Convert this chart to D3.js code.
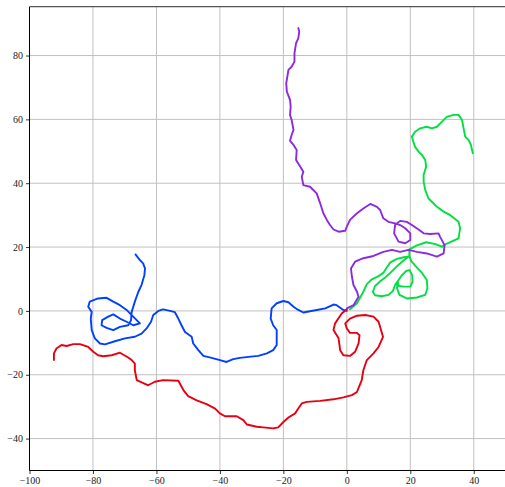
<!DOCTYPE html>
<html>
<head>
<meta charset="utf-8">
<script src="https://cdn.jsdelivr.net/npm/d3@7/dist/d3.min.js"></script>
<style>
html,body{margin:0;padding:0;background:#fff;}
</style>
</head>
<body>
<svg id="chart" width="505" height="487"></svg>
<script>
const xTicks = [-100, -80, -60, -40, -20, 0, 20, 40];
const yTicks = [-40, -20, 0, 20, 40, 60, 80];

const bluePath = [[0,0],[-1.1,0.3],[-3.2,1.8],[-4.2,2.0],[-6.8,0.8],[-9.5,0.3],[-11.6,-0.1],[-13.7,-0.5],[-15.3,0.3],[-16.8,1.3],[-18.4,2.7],[-20.0,3.1],[-22.1,2.4],[-23.7,0.8],[-24.0,-2.4],[-23.2,-4.5],[-22.1,-6.0],[-22.1,-10.7],[-23.2,-12.3],[-25.2,-13.3],[-27.9,-14.1],[-31.0,-14.4],[-33.7,-14.7],[-35.8,-15.1],[-37.9,-16.0],[-40.0,-15.4],[-42.6,-14.7],[-45.2,-14.1],[-46.8,-12.3],[-48.4,-10.2],[-48.9,-8.1],[-51.0,-6.6],[-52.1,-4.5],[-53.1,-2.4],[-54.2,-0.4],[-55.7,0],[-57.9,0.5],[-59.4,0],[-61.0,-1.3],[-61.7,-3.4],[-63.1,-5.5],[-64.7,-7.1],[-66.8,-8.1],[-69.9,-8.6],[-73.1,-9.5],[-76.2,-10.5],[-77.8,-10.2],[-79.4,-8.6],[-80.4,-6.0],[-80.7,-2.4],[-80.4,-0.3],[-81.5,1.3],[-81.0,2.9],[-78.4,3.9],[-75.7,4.1],[-73.6,2.9],[-71.5,1.8],[-69.4,0.3],[-67.8,-1.3],[-65.2,-3.9],[-67.3,-4.5],[-69.4,-3.4],[-71.5,-2.4],[-73.6,-1.1],[-75.2,-1.8],[-77.1,-2.9],[-77.3,-4.5],[-75.7,-5.3],[-73.6,-6.0],[-71.5,-5.0],[-68.9,-4.5],[-68.0,-2.9],[-67.8,-0.3],[-66.8,2.9],[-65.7,6.0],[-64.7,8.1],[-63.8,11.2],[-63.6,13.3],[-64.2,14.9],[-65.2,15.9],[-66.6,17.7]];

const redPath = [[0,0.5],[-1.6,-0.8],[-3.7,-3.9],[-4.2,-6.0],[-2.6,-8.6],[-2.1,-12.3],[-1.1,-13.9],[1.0,-14.1],[2.6,-12.8],[3.7,-10.2],[4.0,-7.6],[3.2,-6.9],[1.0,-6.9],[0,-5.5],[-0.5,-3.9],[1.0,-2.4],[3.2,-1.5],[5.8,-1.3],[8.4,-1.8],[10.0,-3.4],[11.4,-8.1],[10.0,-11.3],[8.4,-13.3],[6.3,-15.4],[5.2,-18.6],[4.7,-21.7],[3.2,-25.4],[1.6,-26.4],[-1.1,-27.1],[-4.2,-27.7],[-8.4,-28.2],[-12.6,-28.5],[-14.2,-29.0],[-15.3,-30.6],[-16.3,-32.1],[-18.4,-33.4],[-20.0,-34.8],[-21.6,-36.5],[-23.2,-36.8],[-26.3,-36.5],[-28.4,-36.3],[-31.5,-35.6],[-32.6,-34.2],[-34.7,-33.0],[-38.4,-33.0],[-40.0,-32.1],[-41.5,-30.6],[-44.2,-29.2],[-47.3,-28.0],[-50.0,-26.7],[-51.5,-24.8],[-53.1,-21.9],[-57.9,-21.7],[-60.5,-22.2],[-62.6,-23.3],[-66.2,-21.7],[-66.8,-18.6],[-66.8,-16.5],[-67.8,-15.4],[-68.9,-14.6],[-71.5,-13.1],[-74.1,-13.9],[-76.8,-14.2],[-78.4,-13.9],[-79.9,-12.8],[-81.5,-11.3],[-84.1,-10.4],[-86.2,-10.4],[-88.3,-11.0],[-89.9,-10.7],[-91.5,-11.8],[-92.3,-13.3],[-92.3,-15.4]];

const purplePath = [[0,0.8],[2.1,1.8],[3.7,4.4],[3.2,6.0],[2.1,8.1],[1.6,10.7],[1.3,13.3],[2.6,15.4],[5.2,16.5],[8.4,17.2],[11.5,18.5],[14.2,19.1],[16.8,18.5],[19.4,19.1],[22.1,18.5],[25.2,18.0],[28.4,17.0],[30.5,18.0],[30.8,20.6],[29.4,23.2],[28.9,24.3],[26.3,24.1],[24.2,24.3],[22.6,25.5],[20.5,26.9],[18.9,27.9],[16.8,28.2],[15.2,26.9],[14.9,24.3],[16.3,21.7],[18.4,21.2],[20.0,22.2],[20.0,24.3],[18.4,25.9],[16.8,26.9],[15.2,27.4],[13.1,27.9],[11.5,29.0],[10.5,31.6],[9.5,32.6],[7.4,33.5],[5.2,32.1],[3.2,30.6],[1.0,28.5],[0,26.4],[-0.5,25.1],[-2.6,24.8],[-4.2,25.5],[-5.3,26.9],[-6.3,28.5],[-7.4,30.6],[-8.4,33.7],[-9.5,36.8],[-11.6,38.9],[-13.7,39.4],[-14.2,42.0],[-13.7,43.6],[-14.7,45.2],[-16.0,47.3],[-15.8,50.4],[-16.8,52.0],[-17.9,53.3],[-17.4,55.1],[-16.8,56.7],[-17.4,59.8],[-17.9,61.4],[-17.7,64.0],[-17.9,66.1],[-18.9,68.7],[-19.1,71.3],[-18.4,75.5],[-17.4,76.5],[-16.5,78.1],[-16.5,80.7],[-16.0,83.9],[-15.3,85.4],[-15.0,87.5],[-15.3,88.6]];

const greenPath = [[1,0.5],[3.2,2.4],[4.2,4.2],[5.2,6.0],[6.3,8.4],[7.9,9.9],[10.0,10.9],[11.5,11.9],[12.6,13.6],[13.7,15.2],[15.8,16.3],[17.9,16.8],[19.4,17.0],[17.4,15.4],[15.6,13.8],[13.7,11.9],[12.1,10.5],[10.3,9.1],[8.9,7.8],[8.2,6.0],[8.9,4.9],[11.0,4.6],[13.1,5.0],[14.5,6.2],[15.2,8.1],[16.3,9.7],[17.4,11.2],[18.7,12.5],[19.7,12.8],[20.6,11.2],[20.7,9.1],[20.0,7.6],[17.9,7.6],[16.4,7.8],[16.0,9.3],[15.8,7.1],[16.6,5.0],[18.9,3.9],[22.1,4.2],[24.7,5.0],[25.4,7.1],[25.2,9.7],[23.7,11.9],[21.9,13.8],[20.3,15.6],[19.7,17.2],[19.7,19.3],[22.1,20.5],[25.0,21.5],[27.9,20.9],[30.0,20.1],[30.5,20.6],[35.2,22.7],[35.7,25.9],[35.2,27.9],[32.6,30.0],[30.5,31.1],[28.4,32.6],[26.8,34.2],[25.7,35.3],[24.7,37.9],[24.2,40.5],[24.2,42.6],[25.0,45.2],[24.7,47.3],[23.7,48.8],[22.6,49.9],[21.5,51.4],[20.8,53.5],[20.5,54.6],[21.5,56.1],[23.1,57.2],[25.2,57.7],[26.8,57.2],[28.4,57.7],[30.0,59.3],[31.5,60.8],[33.6,61.4],[35.2,61.4],[36.3,59.8],[36.8,57.2],[37.3,54.6],[38.4,53.5],[39.1,52.0],[39.7,49.4]];

const series = [
  {name: "blue", color: "#0040ff", path: bluePath},
  {name: "red", color: "#e60012", path: redPath},
  {name: "green", color: "#00e040", path: greenPath},
  {name: "purple", color: "#8a2be2", path: purplePath}
];

const FONT = "'Liberation Serif', 'DejaVu Serif', serif";
const svg = d3.select("#chart");
const pLeft = 29.5, pRight = 505.5, pTop = 6.7, pBottom = 470.5;
const x = d3.scaleLinear().domain([-100, 50]).range([pLeft, pRight]);
const y = d3.scaleLinear().domain([-50, 95.3]).range([pBottom, pTop]);

svg.append("defs").append("clipPath").attr("id","clip")
  .append("rect").attr("x", pLeft).attr("y", pTop).attr("width", pRight-pLeft).attr("height", pBottom-pTop);

// grid
const grid = svg.append("g");
grid.selectAll(".gx").data(xTicks).join("line")
  .attr("x1", d => x(d)).attr("x2", d => x(d)).attr("y1", pTop).attr("y2", pBottom)
  .attr("stroke", "#c0c0c0").attr("stroke-width", 1);
grid.selectAll(".gy").data(yTicks).join("line")
  .attr("y1", d => y(d)).attr("y2", d => y(d)).attr("x1", pLeft).attr("x2", pRight)
  .attr("stroke", "#c0c0c0").attr("stroke-width", 1);

// lines
const line = d3.line().x(d => x(d[0])).y(d => y(d[1]));
svg.append("g").attr("clip-path","url(#clip)")
  .selectAll("path").data(series).join("path")
  .attr("d", d => line(d.path))
  .attr("fill", "none").attr("stroke", d => d.color)
  .attr("stroke-width", 1.9).attr("stroke-linejoin", "round").attr("stroke-linecap", "round");

const fmt = d => d < 0 ? "\u2212" + Math.abs(d) : String(d);

// axes
const xAxis = d3.axisBottom(x).tickValues(xTicks).tickSize(3.5).tickPadding(3).tickFormat(fmt);
const gx = svg.append("g").attr("transform", `translate(0,${pBottom})`).call(xAxis);
const yAxis = d3.axisLeft(y).tickValues(yTicks).tickSize(3.5).tickPadding(3).tickFormat(fmt);
const gy = svg.append("g").attr("transform", `translate(${pLeft},0)`).call(yAxis);
[gx, gy].forEach(g => {
  g.attr("font-family", FONT).attr("font-size", 10);
  g.select(".domain").remove();
  g.selectAll(".tick line").attr("stroke", "#000").attr("stroke-width", 0.8);
  g.selectAll(".tick text").attr("fill", "#222").attr("font-family", FONT).attr("font-size", 10);
});

// spines
svg.append("line").attr("x1", pLeft).attr("x2", pLeft).attr("y1", pTop).attr("y2", pBottom)
  .attr("stroke", "#000").attr("stroke-width", 1);
svg.append("line").attr("x1", pLeft).attr("x2", pRight).attr("y1", pBottom).attr("y2", pBottom)
  .attr("stroke", "#000").attr("stroke-width", 1);
svg.append("line").attr("x1", pLeft).attr("x2", pRight).attr("y1", pTop).attr("y2", pTop)
  .attr("stroke", "#555").attr("stroke-width", 1.3);
</script>
</body>
</html>
